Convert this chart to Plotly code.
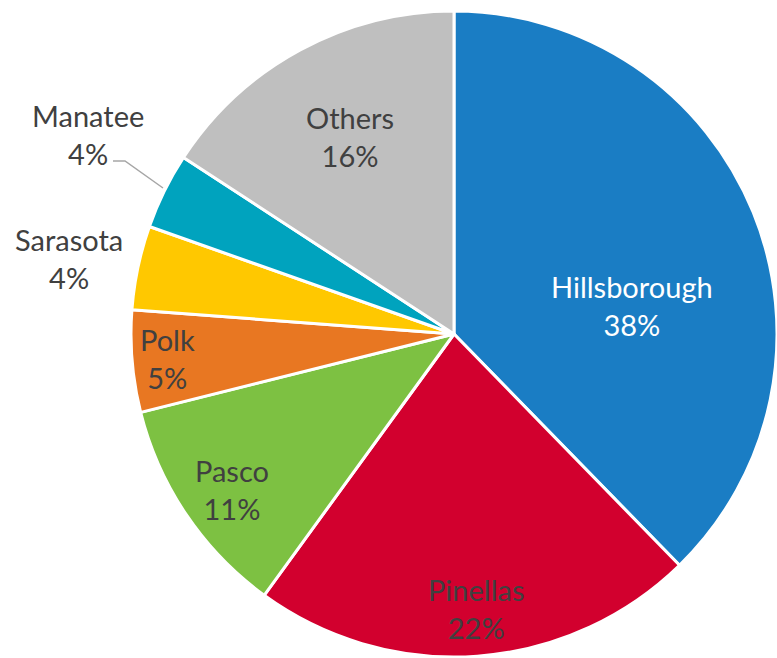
import plotly.graph_objects as go

# Data
counties = ["Hillsborough", "Pinellas", "Pasco", "Polk", "Sarasota", "Manatee", "Others"]
shares = [37.7, 22.3, 11.1, 5.1, 4.2, 3.8, 15.8]
colors = ["#1A7DC4", "#D2002E", "#7DC142", "#E87722", "#FFC800", "#00A3BE", "#BFBFBF"]
text_colors = ["#FFFFFF", "#404040", "#404040", "#404040", "#404040", "#404040", "#404040"]
# label centre positions in pixels (x, y from top)
label_pos = [(632, 306), (476, 608), (232, 489), (167, 358), (69, 258), (88, 134), (350, 137)]

W, H = 777, 658
total = sum(shares)

fig = go.Figure(go.Pie(
    labels=counties,
    values=shares,
    sort=False,
    direction="clockwise",
    rotation=0,
    marker=dict(colors=colors, line=dict(color="#FFFFFF", width=3)),
    textinfo="none",
    hoverinfo="label+percent",
    showlegend=False,
    domain=dict(x=[131 / W, 1.0], y=[0 / H, 648 / H]),
))

annotations = []
for name, v, tc, (px, py) in zip(counties, shares, text_colors, label_pos):
    pct = round(v / total * 100)
    annotations.append(dict(
        x=px / W, y=1 - py / H, xref="paper", yref="paper",
        text=f"{name}<br>{pct}%", showarrow=False,
        font=dict(family="Lato, Carlito, Calibri, sans-serif", size=29, color=tc),
        xanchor="center", yanchor="middle", align="center",
    ))

# leader line for Manatee
pts = [(113, 161), (125, 161), (163, 188)]
path = "M " + " L ".join(f"{x / W},{1 - y / H}" for x, y in pts)
shapes = [dict(type="path", xref="paper", yref="paper", path=path,
               line=dict(color="#A6A6A6", width=1.5))]

fig.update_layout(
    width=W, height=H,
    margin=dict(l=0, r=0, t=0, b=0),
    paper_bgcolor="#FFFFFF", plot_bgcolor="#FFFFFF",
    annotations=annotations,
    shapes=shapes,
)

fig.write_html("out.html")
